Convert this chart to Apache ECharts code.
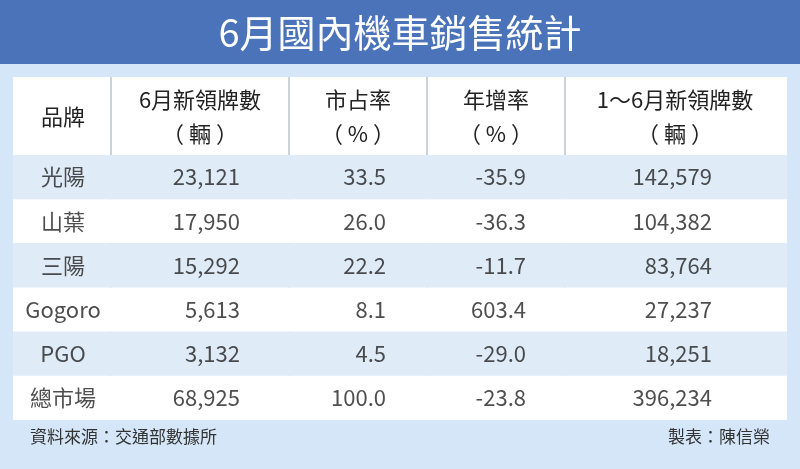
<!DOCTYPE html><html><head><meta charset="utf-8">
<script src="https://cdn.jsdelivr.net/npm/echarts@6/dist/echarts.min.js"></script>
<style>html,body{margin:0;padding:0;background:#fff}#c{width:800px;height:469px}</style></head><body><div id="c"></div>
<script>
const brands=['光陽','山葉','三陽','Gogoro','PGO','總市場'];
const units=['23,121','17,950','15,292','5,613','3,132','68,925'];
const share=['33.5','26.0','22.2','8.1','4.5','100.0'];
const growth=['-35.9','-36.3','-11.7','603.4','-29.0','-23.8'];
const ytd=['142,579','104,382','83,764','27,237','18,251','396,234'];
const headers=[['品牌',''],['6月新領牌數','（ 輛 ）'],['市占率','（ % ）'],['年增率','（ % ）'],['1～6月新領牌數','（ 輛 ）']];
const cols=[brands,units,share,growth,ytd];
const colRight=[null,240,386,526,712];
const colCenter=[63,200,358,496,675];
const F='"Noto Sans CJK TC","Noto Sans",sans-serif';
const chart=echarts.init(document.getElementById('c'));
const gl=13,gw=774,cw=gw/5;
const series=cols.map((arr,ci)=>{
  const catC=gl+cw*(ci+0.5);
  const right=colRight[ci];
  return {type:'scatter',symbolSize:0,silent:true,
    data:arr.map((v,ri)=>[ci,ri]),
    label:{show:true,formatter:p=>arr[p.data[1]],color:'#222',fontFamily:F,fontSize:22,
      align:right?'right':'center',position:'inside',
      offset:[right?right-catC:colCenter[ci]-catC,0]}};
});
const g=[
 {type:'rect',shape:{x:0,y:0,width:800,height:469},style:{fill:'#d4e6f7'},z:-10},
 {type:'rect',shape:{x:0,y:0,width:800,height:64},style:{fill:'#4a73b9'},z:-9},
 {type:'text',x:400,y:33,style:{text:'6月國內機車銷售統計',fill:'#fff',font:'38px '+F,align:'center',verticalAlign:'middle'}},
 {type:'rect',shape:{x:13,y:77,width:774,height:78},style:{fill:'#fff'},z:-8},
 {type:'text',x:30,y:437,style:{text:'資料來源：交通部數據所',fill:'#333',font:'17px '+F,verticalAlign:'middle'}},
 {type:'text',x:770,y:437,style:{text:'製表：陳信榮',fill:'#333',font:'17px '+F,align:'right',verticalAlign:'middle'}}
];
[111,289,427,565].forEach(x=>g.push({type:'line',shape:{x1:x,y1:77,x2:x,y2:420},style:{stroke:'#9aa6b4',lineWidth:1}}));
headers.forEach((h,i)=>{
  if(h[1]){g.push({type:'text',x:colCenter[i],y:100,style:{text:h[0],fill:'#222',font:'22px '+F,align:'center',verticalAlign:'middle'}});
   g.push({type:'text',x:colCenter[i],y:134,style:{text:h[1],fill:'#222',font:'22px '+F,align:'center',verticalAlign:'middle'}});}
  else g.push({type:'text',x:colCenter[i],y:117,style:{text:h[0],fill:'#222',font:'22px '+F,align:'center',verticalAlign:'middle'}});
});
chart.setOption({animation:false,
 grid:{left:gl,right:13,top:155,bottom:49},
 xAxis:{type:'category',data:[0,1,2,3,4],show:false},
 yAxis:{type:'category',data:brands,inverse:true,axisLine:{show:false},axisTick:{show:false},axisLabel:{show:false},
   splitArea:{show:true,areaStyle:{color:['#dfecf8','#ffffff']}}},
 graphic:g,series});
</script></body></html>
